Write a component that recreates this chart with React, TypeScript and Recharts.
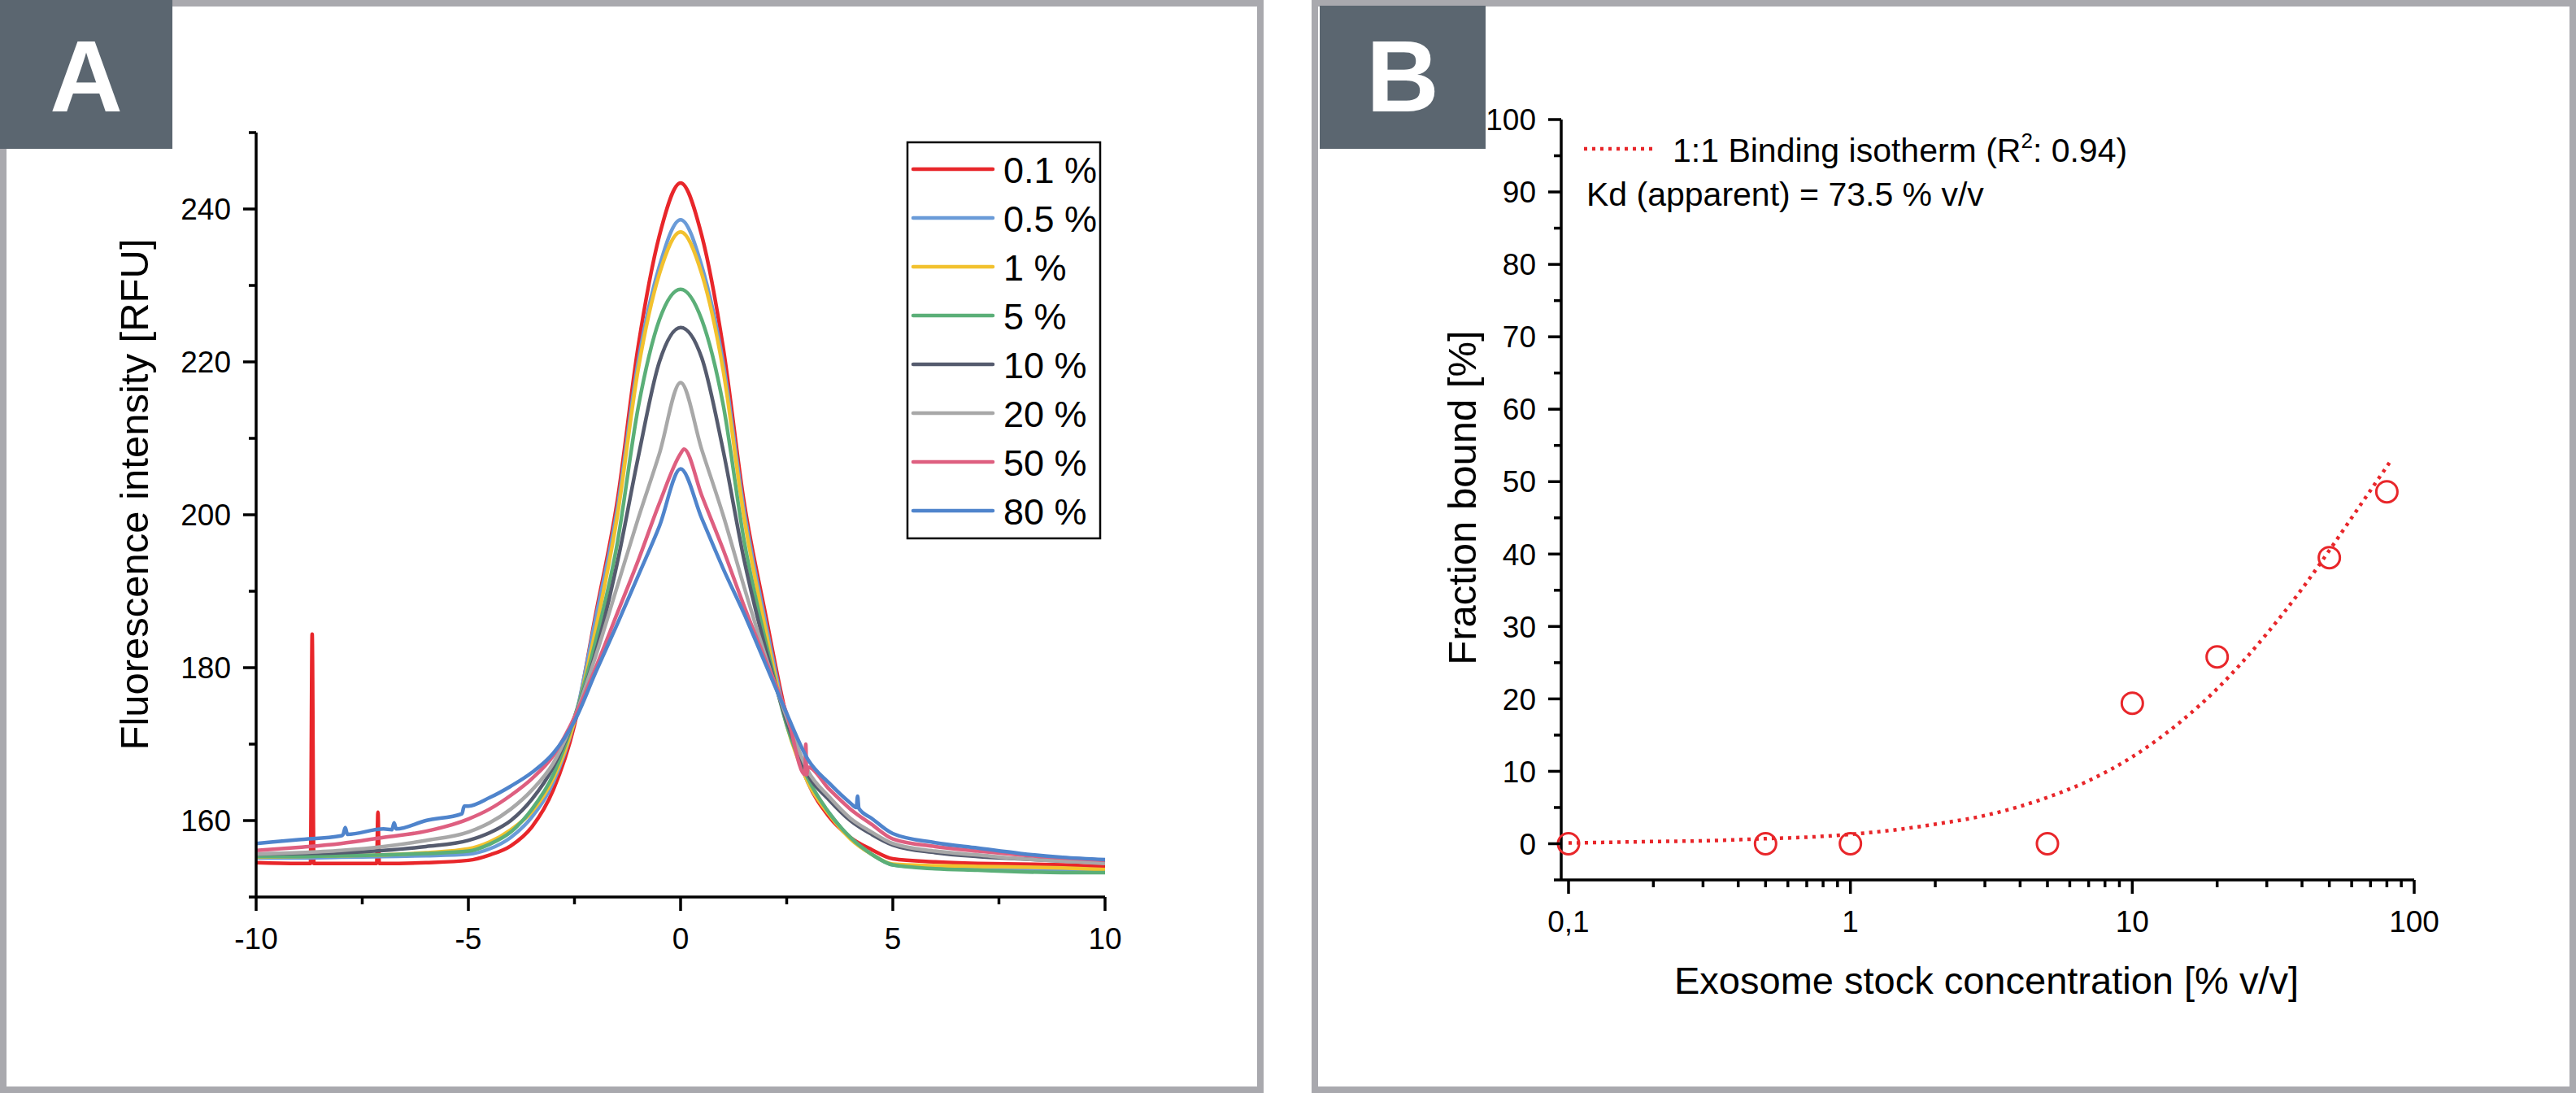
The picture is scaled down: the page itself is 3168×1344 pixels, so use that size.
import { LineChart, Line, XAxis, YAxis, ComposedChart, Scatter } from "recharts";

const FONT = '"Liberation Sans", Arial, Helvetica, sans-serif';
const BORDER = "#A9A9AE";
const BADGE = "#5B6670";
const RED = "#E8262A";

// ---------- panel A: fluorescence traces ----------
const A_X_TICKS = [-10, -7.5, -5, -2.5, 0, 2.5, 5, 7.5, 10];
const A_X_MAJOR = [-10, -5, 0, 5, 10];
const A_Y_TICKS = [150, 160, 170, 180, 190, 200, 210, 220, 230, 240, 250];
const A_Y_MAJOR = [160, 180, 200, 220, 240];

const GRID_X = [
  -10, -9, -8, -7, -6, -5, -4.5, -4, -3.5, -3, -2.5, -2, -1.5, -1, -0.5, 0, 0.5, 1, 1.5, 2, 2.5,
  3, 3.5, 4, 4.5, 5, 6, 7, 8, 9, 10,
];

const RED_V = [
  154.5, 154.4, 154.4, 154.4, 154.5, 154.8, 155.5, 156.7, 159.2, 164, 172.5, 187, 201.5, 222, 236.5,
  243.4, 236.5, 222, 201.5, 187, 173.5, 165, 160.5, 157.8, 156.2, 155, 154.6, 154.4, 154.3, 154.2, 154,
];
const BLUE05_V = [
  155.1, 155.1, 155.2, 155.3, 155.4, 155.6, 156.3, 157.8, 160.5, 165, 173, 186.5, 200.5, 220, 232.5,
  238.6, 232.5, 220, 200.5, 186, 173, 165, 161, 157.7, 155.6, 154.2, 153.8, 153.6, 153.5, 153.4, 153.3,
];
const YELLOW_V = [
  155.2, 155.3, 155.4, 155.5, 155.8, 156.3, 157.2, 158.8, 161.2, 165.5, 173, 185, 199.5, 219, 231.5,
  237, 231.5, 219, 199.5, 185, 172.5, 165, 160.8, 157.6, 155.6, 154.3, 154.1, 154, 153.9, 153.8, 153.6,
];
const GREEN_V = [
  155.3, 155.3, 155.4, 155.5, 155.7, 156, 156.9, 158.5, 161.5, 166, 173.5, 183.5, 196, 214, 225.5,
  229.5, 225.5, 214.5, 196.5, 183.5, 172.5, 165.5, 161, 157.8, 155.6, 154.2, 153.7, 153.5, 153.3, 153.2, 153.2,
];
const DARK_V = [
  155.6, 155.7, 155.8, 156.1, 156.6, 157.4, 158.4, 160, 162.8, 167, 173.5, 182, 193.5, 207.5, 220,
  224.5, 220.5, 208.5, 194, 182.5, 173, 166, 162.7, 160, 158.2, 156.8, 155.8, 155.3, 155, 154.7, 154.5,
];
const GRAY_V = [
  155.6, 155.8, 156.1, 156.6, 157.4, 158.5, 159.7, 161.5, 164, 167.5, 173.5, 181.5, 190.5, 199.5, 208,
  217.3, 208.5, 200, 190.5, 181.5, 173.5, 166.5, 163.1, 160.3, 158.5, 157, 156, 155.5, 155, 154.7, 154.4,
];
const PINK_V = [
  156.1, 156.5, 157, 157.8, 158.6, 160.2, 161.5, 163.3, 165.5, 168.5, 173.5, 180, 187, 194, 201.5,
  208, 202.5, 195.5, 188, 181, 174, 167, 164.1, 161.5, 159.5, 157.6, 156.6, 156, 155.5, 155.1, 154.8,
];
const BLUE80_V = [
  157, 157.5, 158, 158.9, 160, 161.9, 163, 164.5, 166.3, 168.8, 173, 179.4, 185.6, 192, 198.5,
  206, 199.5, 193, 187, 180.5, 174, 168, 164.9, 162.3, 160.3, 158.3, 157.1, 156.4, 155.7, 155.2, 154.9,
];

// spikes and steps in the raw traces
const RED_EXTRA = [
  [-8.72, 154.4], [-8.68, 184.4], [-8.64, 154.4],
  [-7.16, 154.4], [-7.13, 161.1], [-7.1, 154.4],
];
const PINK_EXTRA = [[0.08, 208.6], [2.93, 166], [2.95, 170], [2.97, 166]];
const BLUE80_EXTRA = [
  [-7.95, 158.2], [-7.9, 159.1], [-7.85, 158.2],
  [-6.8, 158.8], [-6.75, 159.7], [-6.7, 158.9],
  [-5.15, 160.9], [-5.1, 161.9],
  [4.14, 161.7], [4.17, 163.2], [4.2, 161.6],
];

const LABELS_A = ["0.1 %", "0.5 %", "1 %", "5 %", "10 %", "20 %", "50 %", "80 %"];
const COLORS_A = ["#E8262A", "#6A9BD8", "#F2C12E", "#5BAF78", "#555B6E", "#A8A8A8", "#DE5F80", "#4F84CC"];
const VALUES_A = [RED_V, BLUE05_V, YELLOW_V, GREEN_V, DARK_V, GRAY_V, PINK_V, BLUE80_V];
const EXTRAS_A = [RED_EXTRA, [], [], [], [], [], PINK_EXTRA, BLUE80_EXTRA];

const buildSeries = (values: number[], extra: number[][]) =>
  GRID_X.map((x, i) => ({ x, v: values[i] }))
    .concat(extra.map(([x, v]) => ({ x, v })))
    .sort((a, b) => a.x - b.x);

// ---------- panel B: binding isotherm ----------
const B_X_MAJOR = [0.1, 1, 10, 100];
const B_X_TICKS = [
  0.1, 0.2, 0.3, 0.4, 0.5, 0.6, 0.7, 0.8, 0.9, 1, 2, 3, 4, 5, 6, 7, 8, 9, 10, 20, 30, 40, 50, 60, 70,
  80, 90, 100,
];
const B_Y_TICKS = [-5, 0, 5, 10, 15, 20, 25, 30, 35, 40, 45, 50, 55, 60, 65, 70, 75, 80, 85, 90, 95, 100];
const B_Y_MAJOR = [0, 10, 20, 30, 40, 50, 60, 70, 80, 90, 100];

const CONC = [0.1, 0.5, 1, 5, 10, 20, 50, 80];
const BOUND = [0, 0, 0, 0, 19.4, 25.8, 39.5, 48.6];

const FIT_X = [0.1, 0.2, 0.3, 0.5, 0.7, 1, 1.5, 2, 3, 5, 7, 10, 15, 20, 30, 40, 50, 60, 70, 82];
const FIT_Y = [0.1, 0.3, 0.4, 0.7, 0.9, 1.3, 2, 2.7, 3.9, 6.4, 8.7, 12, 17, 21.4, 29, 35.2, 40.5, 45, 48.8, 52.7];

const points = CONC.map((x, i) => ({ x, y: BOUND[i] }));
const fit = FIT_X.map((x, i) => ({ x, y: FIT_Y[i] }));

const has = (arr: number[], v: number) => arr.some((a) => Math.abs(a - v) < 1e-9);
const AXIS = { stroke: "#000", strokeWidth: 3.5 };

const leftTick = (major: number[], fs: number, fmt: (v: number) => string) => (props: any) => {
  const { x, y, payload } = props;
  const isMajor = has(major, payload.value);
  const len = isMajor ? 16 : 9;
  return (
    <g>
      <line x1={x - len} x2={x} y1={y} y2={y} stroke="#000" strokeWidth={3.5} />
      {isMajor && (
        <text x={x - 31} y={y + fs * 0.358} textAnchor="end" fontSize={fs} fontFamily={FONT} fill="#000">
          {fmt(payload.value)}
        </text>
      )}
    </g>
  );
};

const bottomTick = (major: number[], fs: number, fmt: (v: number) => string) => (props: any) => {
  const { x, y, payload } = props;
  const isMajor = has(major, payload.value);
  const len = isMajor ? 17 : 9;
  return (
    <g>
      <line x1={x} x2={x} y1={y} y2={y + len} stroke="#000" strokeWidth={3.5} />
      {isMajor && (
        <text x={x} y={y + 64} textAnchor="middle" fontSize={fs} fontFamily={FONT} fill="#000">
          {fmt(payload.value)}
        </text>
      )}
    </g>
  );
};

const fmtA = (v: number) => String(v);
const fmtBx = (v: number) => (v === 0.1 ? "0,1" : String(v));

export default function App() {
  return (
    <div
      style={{
        position: "absolute",
        left: 0,
        top: 0,
        width: 3168,
        height: 1344,
        background: "#fff",
        overflow: "hidden",
        fontFamily: FONT,
      }}
    >
      <div style={{ position: "absolute", left: 0, top: 0, width: 1554, height: 1344, border: `8px solid ${BORDER}`, boxSizing: "border-box" }} />
      <div style={{ position: "absolute", left: 1613, top: 0, width: 1555, height: 1344, border: `8px solid ${BORDER}`, boxSizing: "border-box" }} />

      <div style={{ position: "absolute", left: 0, top: 0 }}>
        <LineChart width={1400} height={1200} margin={{ top: 163, right: 41, bottom: 0, left: 0 }}>
          <XAxis
            dataKey="x"
            type="number"
            domain={[-10, 10]}
            ticks={A_X_TICKS}
            interval={0}
            height={97}
            tickSize={0}
            tickMargin={0}
            tickLine={false}
            axisLine={AXIS}
            tick={bottomTick(A_X_MAJOR, 37, fmtA)}
          />
          <YAxis
            type="number"
            domain={[150, 250]}
            ticks={A_Y_TICKS}
            interval={0}
            width={315}
            tickSize={0}
            tickMargin={0}
            tickLine={false}
            axisLine={AXIS}
            tick={leftTick(A_Y_MAJOR, 37, fmtA)}
          />
          {VALUES_A.map((vals, i) => (
            <Line
              key={LABELS_A[i]}
              data={buildSeries(vals, EXTRAS_A[i])}
              dataKey="v"
              type="monotone"
              stroke={COLORS_A[i]}
              strokeWidth={4.5}
              dot={false}
              isAnimationActive={false}
            />
          ))}
        </LineChart>
      </div>

      <div style={{ position: "absolute", left: 1623, top: 0 }}>
        <ComposedChart width={1500} height={1300} margin={{ top: 147, right: 154, bottom: 0, left: 0 }}>
          <XAxis
            dataKey="x"
            type="number"
            scale="log"
            domain={[0.0942, 100]}
            ticks={B_X_TICKS}
            interval={0}
            height={218}
            tickSize={0}
            tickMargin={0}
            tickLine={false}
            axisLine={AXIS}
            tick={bottomTick(B_X_MAJOR, 37, fmtBx)}
          />
          <YAxis
            dataKey="y"
            type="number"
            domain={[-5, 100]}
            ticks={B_Y_TICKS}
            interval={0}
            width={297}
            tickSize={0}
            tickMargin={0}
            tickLine={false}
            axisLine={AXIS}
            tick={leftTick(B_Y_MAJOR, 37, fmtA)}
          />
          <Line
            data={fit}
            dataKey="y"
            type="monotone"
            stroke={RED}
            strokeWidth={4.5}
            strokeDasharray="4 6"
            dot={false}
            isAnimationActive={false}
          />
          <Scatter
            data={points}
            dataKey="y"
            isAnimationActive={false}
            shape={(p: any) => <circle cx={p.cx} cy={p.cy} r={13} fill="none" stroke={RED} strokeWidth={3} />}
          />
        </ComposedChart>
      </div>

      <svg width={3168} height={1344} style={{ position: "absolute", left: 0, top: 0, pointerEvents: "none" }}>
        <rect x={0} y={0} width={212} height={183} fill={BADGE} />
        <text x={106} y={137} textAnchor="middle" fontSize={124} fontWeight="bold" fill="#fff" fontFamily={FONT}>
          A
        </text>
        <rect x={1623} y={7} width={204} height={176} fill={BADGE} />
        <text x={1725} y={137} textAnchor="middle" fontSize={124} fontWeight="bold" fill="#fff" fontFamily={FONT}>
          B
        </text>

        <text transform="translate(182,608) rotate(-90)" textAnchor="middle" fontSize={49} fill="#000" fontFamily={FONT}>
          Fluorescence intensity [RFU]
        </text>

        <rect x={1116} y={175} width={237} height={487} fill="#fff" stroke="#000" strokeWidth={2.5} />
        {LABELS_A.map((name, i) => (
          <g key={name}>
            <line x1={1123} x2={1221} y1={208 + i * 60} y2={208 + i * 60} stroke={COLORS_A[i]} strokeWidth={4.5} strokeLinecap="round" />
            <text x={1234} y={225 + i * 60} fontSize={45} fill="#000" fontFamily={FONT}>
              {name}
            </text>
          </g>
        ))}

        <text transform="translate(1815,612) rotate(-90)" textAnchor="middle" fontSize={49} fill="#000" fontFamily={FONT}>
          Fraction bound [%]
        </text>
        <text x={2443} y={1222} textAnchor="middle" fontSize={47} fill="#000" fontFamily={FONT}>
          Exosome stock concentration [% v/v]
        </text>

        <line x1={1948} x2={2034} y1={183} y2={183} stroke={RED} strokeWidth={4.5} strokeDasharray="4 6" />
        <text x={2057} y={199} fontSize={41} fill="#000" fontFamily={FONT}>
          1:1 Binding isotherm (R
          <tspan fontSize={26} dy={-17}>2</tspan>
          <tspan dy={17}>: 0.94)</tspan>
        </text>
        <text x={1951} y={253} fontSize={41} fill="#000" fontFamily={FONT}>
          Kd (apparent) = 73.5 % v/v
        </text>
      </svg>
    </div>
  );
}
